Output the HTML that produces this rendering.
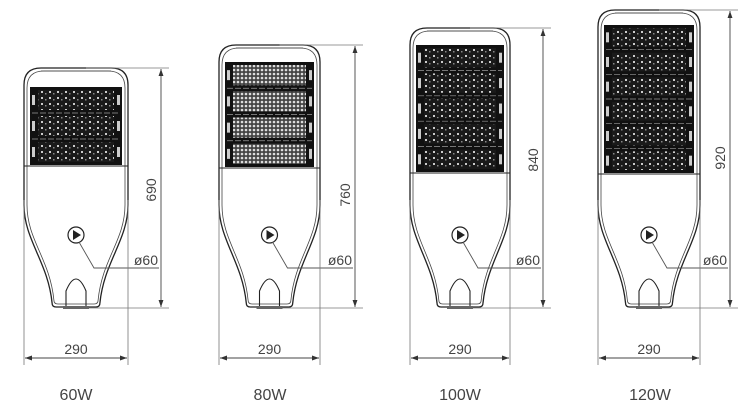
<!DOCTYPE html>
<html><head><meta charset="utf-8"><style>
html,body{margin:0;padding:0;background:#fff;width:750px;height:408px;overflow:hidden}
text{font-family:"Liberation Sans",sans-serif;fill:#444}
</style></head><body>
<svg id="s" width="750" height="408" viewBox="0 0 750 408" xmlns="http://www.w3.org/2000/svg">
<defs>
<pattern id="dk" width="8" height="6" patternUnits="userSpaceOnUse">
<rect width="8" height="6" fill="#1a1a1a"/><rect x="1" y="1" width="2" height="2" fill="#ccc"/><rect x="5" y="3" width="1.5" height="1.5" fill="#888"/>
</pattern>
<pattern id="lt" width="4" height="4" patternUnits="userSpaceOnUse">
<rect width="4" height="4" fill="#444"/><circle cx="2" cy="2" r="1.3" fill="#ddd"/>
</pattern>
<marker id="a" viewBox="0 0 10 10" refX="10" refY="5" markerWidth="8" markerHeight="8" orient="auto-start-reverse"><path d="M0,1.5L10,5L0,8.5z" fill="#333"/></marker>
</defs>
<g id="g"></g>
</svg>
<script>
var L=[
 {l:24,r:128,t:68,m0:87,m1:165,n:3,dx:161,lab:"690",ly:190,w:"60W",wx:76,pat:"dk"},
 {l:219,r:320,t:45,m0:62,m1:167,n:4,dx:355,lab:"760",ly:195,w:"80W",wx:270,pat:"lt"},
 {l:410,r:510,t:28,m0:45,m1:172,n:5,dx:543,lab:"840",ly:160,w:"100W",wx:460,pat:"dk"},
 {l:598,r:700,t:10,m0:25,m1:173,n:6,dx:730,lab:"920",ly:158,w:"120W",wx:650,pat:"dk"}
];
var h="";
L.forEach(function(o){
 var l=o.l,r=o.r,t=o.t,c=(l+r)/2,W=r-l,B=307,bw=W*0.23,ty=205,R=17;
 function body(d){
  var L2=l+d,R2=r-d,T2=t+d,B2=B-d,bl=c-bw+d*0.6,br=c+bw-d*0.6;
  return "M"+L2+","+(T2+R)+"Q"+L2+","+T2+" "+(L2+R)+","+T2+"L"+(R2-R)+","+T2+"Q"+R2+","+T2+" "+R2+","+(T2+R)+
   "L"+R2+","+ty+"C"+R2+","+(ty+35)+" "+(br+4)+","+(B2-45)+" "+br+","+(B2-4)+"Q"+br+","+B2+" "+(br-4)+","+B2+
   "L"+(bl+4)+","+B2+"Q"+bl+","+B2+" "+bl+","+(B2-4)+"C"+(bl-4)+","+(B2-45)+" "+L2+","+(ty+35)+" "+L2+","+ty+"Z";
 }
 h+='<path d="'+body(0)+'" fill="#fff" stroke="#222" stroke-width="1.3"/>';
 h+='<path d="'+body(3)+'" fill="none" stroke="#444" stroke-width="0.8"/>';
 h+='<line x1="'+(l+R)+'" y1="'+(t+3)+'" x2="'+(r-R)+'" y2="'+(t+3)+'" stroke="#444" stroke-width="0.8"/>';
 var ml=l+6,mr=r-6,mh=(o.m1-o.m0)/o.n;
 h+='<rect x="'+ml+'" y="'+o.m0+'" width="'+(mr-ml)+'" height="'+(o.m1-o.m0)+'" fill="#111"/>';
 for(var i=0;i<o.n;i++){
  var y=o.m0+i*mh;
  h+='<rect x="'+(ml+8)+'" y="'+(y+3)+'" width="'+(mr-ml-16)+'" height="'+(mh-6)+'" fill="url(#'+o.pat+')"/>';
  h+='<rect x="'+(ml+2)+'" y="'+(y+mh/2-5)+'" width="3" height="10" fill="#ccc"/>';
  h+='<rect x="'+(mr-5)+'" y="'+(y+mh/2-5)+'" width="3" height="10" fill="#ccc"/>';
  if(i>0)h+='<line x1="'+(ml+2)+'" y1="'+y+'" x2="'+(mr-2)+'" y2="'+y+'" stroke="#999" stroke-width="0.7" stroke-dasharray="6,2"/>';
 }
 h+='<line x1="'+l+'" y1="'+(o.m1+1)+'" x2="'+r+'" y2="'+(o.m1+1)+'" stroke="#222" stroke-width="1"/>';
 h+='<path d="M'+(c-10)+','+(B-1)+'L'+(c-10)+','+(B-16)+'Q'+c+','+(B-40)+' '+(c+10)+','+(B-16)+'L'+(c+10)+','+(B-1)+'" fill="none" stroke="#222" stroke-width="1.1"/>';
 h+='<rect x="'+(c-13)+'" y="'+(B-1)+'" width="26" height="3" fill="#666"/>';
 var cy=235;
 h+='<circle cx="'+c+'" cy="'+cy+'" r="8" fill="#fff" stroke="#222" stroke-width="1.2"/>';
 h+='<path d="M'+(c-3)+','+(cy-5)+'L'+(c+5)+','+cy+'L'+(c-3)+','+(cy+5)+'z" fill="#222"/>';
 h+='<polyline points="'+(c+3)+','+(cy+7)+' '+(c+18)+','+268+' '+(o.dx-2)+',268" fill="none" stroke="#555" stroke-width="0.9"/>';
 h+='<text x="'+(o.dx-3)+'" y="265" font-size="14" text-anchor="end">ø60</text>';
 h+='<line x1="'+(c+10)+'" y1="'+t+'" x2="'+(o.dx+8)+'" y2="'+t+'" stroke="#777" stroke-width="0.8"/>';
 h+='<line x1="'+(c+13)+'" y1="'+(B+1)+'" x2="'+(o.dx+8)+'" y2="'+(B+1)+'" stroke="#777" stroke-width="0.8"/>';
 h+='<line x1="'+o.dx+'" y1="'+(t+1)+'" x2="'+o.dx+'" y2="'+B+'" stroke="#444" stroke-width="0.9" marker-start="url(#a)" marker-end="url(#a)"/>';
 h+='<text transform="translate('+(o.dx-5)+','+o.ly+') rotate(-90)" font-size="14" text-anchor="middle">'+o.lab+'</text>';
 h+='<line x1="'+l+'" y1="200" x2="'+l+'" y2="365" stroke="#777" stroke-width="0.8"/>';
 h+='<line x1="'+r+'" y1="200" x2="'+r+'" y2="365" stroke="#777" stroke-width="0.8"/>';
 h+='<line x1="'+(l+1)+'" y1="358" x2="'+(r-1)+'" y2="358" stroke="#444" stroke-width="0.9" marker-start="url(#a)" marker-end="url(#a)"/>';
 h+='<text x="'+c+'" y="354" font-size="14" text-anchor="middle">290</text>';
 h+='<text x="'+o.wx+'" y="400" font-size="16" text-anchor="middle">'+o.w+'</text>';
});
document.getElementById("g").innerHTML=h;
</script>
</body></html>
